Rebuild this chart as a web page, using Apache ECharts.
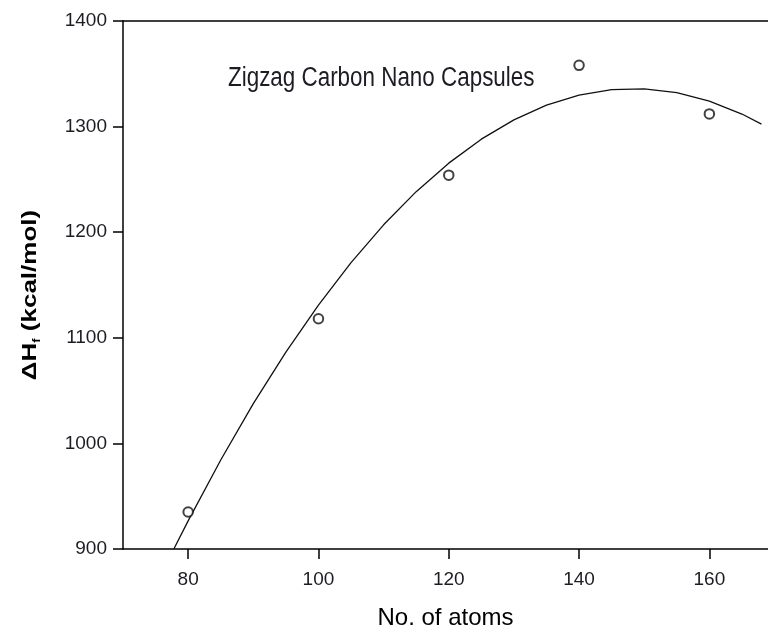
<!DOCTYPE html>
<html>
<head>
<meta charset="utf-8">
<script src="https://cdn.jsdelivr.net/npm/echarts@6/dist/echarts.min.js"></script>
<style>
  html, body { margin: 0; padding: 0; background: #fff; }
  #chart { width: 768px; height: 633px; }
</style>
</head>
<body>
<div id="chart"></div>
<script>
// Heat of formation of zigzag carbon nano capsules vs. number of atoms
const atomCounts = [80, 100, 120, 140, 160];
const heatValues = [935, 1118, 1254, 1358, 1312];

// Regression curve, sampled along the atom axis
const curveAtoms = [77.8, 80, 85, 90, 95, 100, 105, 110, 115, 120, 125, 130, 135, 140, 145, 150, 155, 160, 165, 168];
const curveHeat  = [900, 926.6, 984.3, 1037.6, 1086.5, 1131.0, 1171.2, 1207.0, 1238.4, 1265.4, 1288.1, 1306.4, 1320.3, 1329.8, 1335.0, 1335.8, 1332.2, 1324.2, 1311.9, 1302.4];

const xTicks = [80, 100, 120, 140, 160];
const yMin = 900, yMax = 1400, yStep = 100;
const xMin = 70, xMax = 169;

const annotation = 'Zigzag Carbon Nano Capsules';
const xTitle = 'No. of atoms';
const yTitle = '{a|ΔH}{s|f}{a| (kcal/mol)}';

const sans = '"Liberation Sans", Arial, sans-serif';
const ink = '#1c1c24';

const chart = echarts.init(document.getElementById('chart'), null, { renderer: 'canvas' });

const points = atomCounts.map((x, i) => [x, heatValues[i]]);
const curve = curveAtoms.map((x, i) => [x, curveHeat[i]]);

chart.setOption({
  animation: false,
  backgroundColor: '#fff',
  grid: { left: 123, right: 0, top: 21, bottom: 84, containLabel: false, outerBoundsMode: 'none' },
  xAxis: [{
    type: 'value',
    position: 'bottom',
    min: xMin, max: xMax,
    splitLine: { show: false },
    axisLine: { show: true, onZero: false, lineStyle: { color: '#000', width: 1.5 } },
    axisTick: { show: true, inside: false, length: 10, customValues: xTicks, lineStyle: { color: '#000', width: 1.5 } },
    axisLabel: { show: true, margin: 21, customValues: xTicks, color: ink, fontFamily: sans, fontSize: 19 },
    name: xTitle,
    nameLocation: 'middle',
    nameGap: 57,
    nameTextStyle: { color: '#000', fontFamily: sans, fontSize: 24 }
  }, {
    type: 'value',
    position: 'top',
    min: xMin, max: xMax,
    splitLine: { show: false },
    axisLine: { show: true, onZero: false, lineStyle: { color: '#000', width: 1.5 } },
    axisTick: { show: false },
    axisLabel: { show: false }
  }],
  yAxis: {
    type: 'value',
    min: yMin, max: yMax, interval: yStep,
    splitLine: { show: false },
    axisLine: { show: true, onZero: false, lineStyle: { color: '#000', width: 1.5 } },
    axisTick: { show: true, inside: false, length: 10, lineStyle: { color: '#000', width: 1.5 } },
    axisLabel: { margin: 16, color: ink, fontFamily: sans, fontSize: 19, formatter: v => String(v) }
  },
  graphic: [{
    type: 'text',
    x: 228, y: 78.5,
    scaleX: 0.83,
    style: {
      text: annotation,
      fill: ink,
      font: '27px ' + sans,
      textAlign: 'left',
      textVerticalAlign: 'middle'
    }
  }, {
    type: 'text',
    x: 30, y: 295,
    rotation: Math.PI / 2,
    scaleY: 0.8,
    style: {
      text: yTitle,
      textAlign: 'center',
      textVerticalAlign: 'middle',
      rich: {
        a: { fontFamily: sans, fontWeight: 'bold', fontSize: 26, fill: '#000', lineHeight: 30 },
        s: { fontFamily: sans, fontWeight: 'bold', fontSize: 13, fill: '#000', lineHeight: 14, verticalAlign: 'bottom' }
      }
    }
  }],
  series: [{
    type: 'line',
    data: curve,
    smooth: false,
    showSymbol: false,
    symbol: 'none',
    lineStyle: { color: '#111', width: 1.3 },
    z: 2
  }, {
    type: 'scatter',
    data: points,
    symbol: 'emptyCircle',
    symbolSize: 9.5,
    itemStyle: { color: '#111', borderColor: '#111', borderWidth: 1.2 },
    z: 3
  }]
});
</script>
</body>
</html>
